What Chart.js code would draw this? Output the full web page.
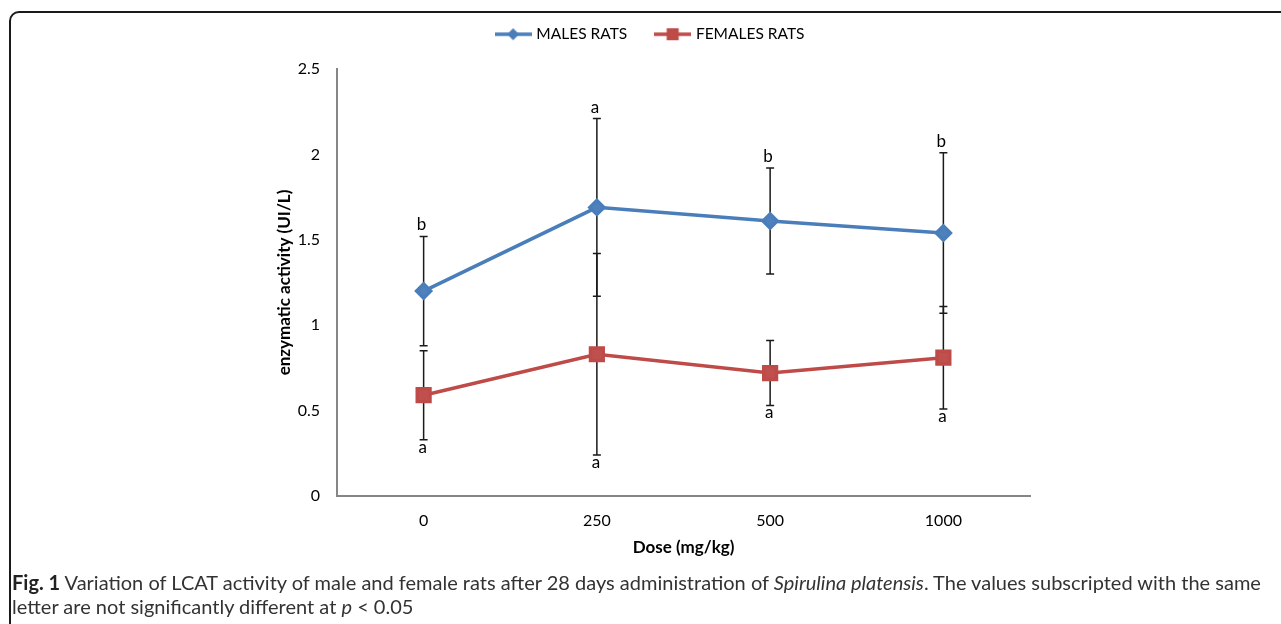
<!DOCTYPE html>
<html>
<head>
<meta charset="utf-8">
<script src="https://cdn.jsdelivr.net/npm/chart.js@4.4.0/dist/chart.umd.min.js"></script>
<style>
html, body { margin: 0; padding: 0; background: #fff; overflow: hidden; }
#wrap { position: relative; width: 1281px; height: 624px; }
#frame { position: absolute; left: 9px; top: 11px; width: 1400px; height: 700px; border: 2px solid #1a1a1a; border-radius: 10px; box-sizing: border-box; }
#chartBox { position: absolute; left: 0; top: 0; width: 1281px; height: 624px; }
#caption { position: absolute; left: 12px; top: 570px; font-family: Lato, sans-serif; font-size: 20px; line-height: 24px; color: #333; white-space: nowrap; }
#caption b { color: #222; }
</style>
</head>
<body>
<div id="wrap">
  <div id="frame"></div>
  <div id="chartBox"><canvas id="lcat"></canvas></div>
  <div id="caption"><b>Fig. 1</b> Variation of LCAT activity of male and female rats after 28 days administration of <i>Spirulina platensis</i>. The values subscripted with the same<br>letter are not significantly different at <i>p</i> &lt; 0.05</div>
</div>
<script>
// values
var doses = ['0', '250', '500', '1000'];
var malesMean = [1.20, 1.69, 1.61, 1.54];
var malesErr = [0.32, 0.52, 0.31, 0.47];
var malesLetters = ['b', 'a', 'b', 'b'];
var femalesMean = [0.59, 0.83, 0.72, 0.81];
var femalesErr = [0.26, 0.59, 0.19, 0.30];
var femalesLetters = ['a', 'a', 'a', 'a'];
var yTicks = [0, 0.5, 1, 1.5, 2, 2.5];

var blue = '#4A7EBB';
var red = '#BE4B48';

// little line + marker pictures for the legend
function legendMark(color, shape) {
    var c = document.createElement('canvas');
    c.width = 37; c.height = 14;
    var g = c.getContext('2d');
    g.strokeStyle = color;
    g.lineWidth = 3.5;
    g.beginPath(); g.moveTo(0, 7); g.lineTo(37, 7); g.stroke();
    g.fillStyle = color;
    if (shape == 'diamond') {
        g.beginPath();
        g.moveTo(18.5, 1); g.lineTo(24.5, 7); g.lineTo(18.5, 13); g.lineTo(12.5, 7);
        g.closePath(); g.fill();
    } else {
        g.fillRect(12.5, 1, 12, 12);
    }
    return c;
}
var maleMark = legendMark(blue, 'diamond');
var femaleMark = legendMark(red, 'square');

// error bars under the lines, significance letters on top
var errorBars = {
    id: 'errorBars',
    beforeDatasetsDraw: function (chart) {
        var ctx = chart.ctx, x = chart.scales.x, y = chart.scales.y;
        var sets = [[malesMean, malesErr], [femalesMean, femalesErr]];
        ctx.save();
        ctx.strokeStyle = '#1a1a1a';
        ctx.lineWidth = 1.5;
        sets.forEach(function (s) {
            s[0].forEach(function (m, i) {
                var px = x.getPixelForValue(i);
                var top = y.getPixelForValue(m + s[1][i]);
                var bot = y.getPixelForValue(m - s[1][i]);
                ctx.beginPath();
                ctx.moveTo(px, top); ctx.lineTo(px, bot);
                ctx.moveTo(px - 4, top); ctx.lineTo(px + 4, top);
                ctx.moveTo(px - 4, bot); ctx.lineTo(px + 4, bot);
                ctx.stroke();
            });
        });
        ctx.restore();
    },
    afterDatasetsDraw: function (chart) {
        var ctx = chart.ctx, x = chart.scales.x, y = chart.scales.y;
        ctx.save();
        ctx.fillStyle = '#000';
        ctx.font = '17px Lato';
        ctx.textAlign = 'center';
        ctx.textBaseline = 'alphabetic';
        malesMean.forEach(function (m, i) {
            ctx.fillText(malesLetters[i], x.getPixelForValue(i) - 2, y.getPixelForValue(m + malesErr[i]) - 6);
        });
        femalesMean.forEach(function (m, i) {
            ctx.fillText(femalesLetters[i], x.getPixelForValue(i) - 1, y.getPixelForValue(m - femalesErr[i]) + 13);
        });
        ctx.restore();
    }
};

var ctx = document.getElementById('lcat').getContext('2d');
var chart = new Chart(ctx, {
    type: 'line',
    data: {
        labels: doses,
        datasets: [{
            label: 'MALES RATS',
            data: malesMean,
            borderColor: blue,
            backgroundColor: '#4F81BD',
            borderWidth: 3.5,
            pointStyle: 'rectRot',
            pointRadius: 7,
            pointHoverRadius: 7,
            tension: 0
        },
        {
            label: 'FEMALES RATS',
            data: femalesMean,
            borderColor: red,
            backgroundColor: '#C0504D',
            borderWidth: 3.5,
            pointStyle: 'rect',
            pointRadius: 9,
            pointHoverRadius: 9,
            tension: 0
        }]
    },
    options: {
        responsive: true,
        maintainAspectRatio: false,
        animation: false,
        layout: { padding: { left: 272, right: 251, top: -3.5, bottom: 58 } },
        plugins: {
            // empty title used as a gap between legend and plot
            title: { display: true, text: '', weight: 500, padding: 0, font: { size: 14.2 } },
            legend: {
                position: 'top',
                labels: {
                    usePointStyle: true,
                    pointStyleWidth: 31,
                    padding: 30,
                    color: '#000',
                    font: { family: 'Lato', size: 15.5 },
                    generateLabels: function (chart) {
                        var items = Chart.defaults.plugins.legend.labels.generateLabels(chart);
                        items[0].pointStyle = maleMark;
                        items[1].pointStyle = femaleMark;
                        return items;
                    }
                }
            },
            tooltip: { enabled: false }
        },
        scales: {
            x: {
                offset: true,
                grid: { display: false, drawTicks: false },
                border: { display: true, color: '#868686', width: 2 },
                ticks: { color: '#000', padding: 15, font: { family: 'Lato', size: 16 } },
                title: {
                    display: true, text: 'Dose (mg/kg)', color: '#000',
                    font: { family: 'Lato', size: 17, weight: 'bold' },
                    padding: { top: 0, bottom: 8 }
                },
                afterFit: function (scale) { scale.height = 70; }
            },
            y: {
                min: 0,
                max: 2.5,
                grid: { display: false, drawTicks: false },
                border: { display: true, color: '#868686', width: 2 },
                ticks: {
                    color: '#000', padding: 17, font: { family: 'Lato', size: 16 },
                    callback: function (v) { return String(v); }
                },
                afterBuildTicks: function (scale) {
                    scale.ticks = yTicks.map(function (v) { return { value: v }; });
                },
                title: {
                    display: true, text: 'enzymatic activity (UI/L)', color: '#000',
                    font: { family: 'Lato', size: 17, weight: 'bold' },
                    padding: { top: 2, bottom: 4 }
                },
                afterFit: function (scale) { scale.width = 65; }
            }
        }
    },
    plugins: [errorBars]
});
</script>
</body>
</html>
